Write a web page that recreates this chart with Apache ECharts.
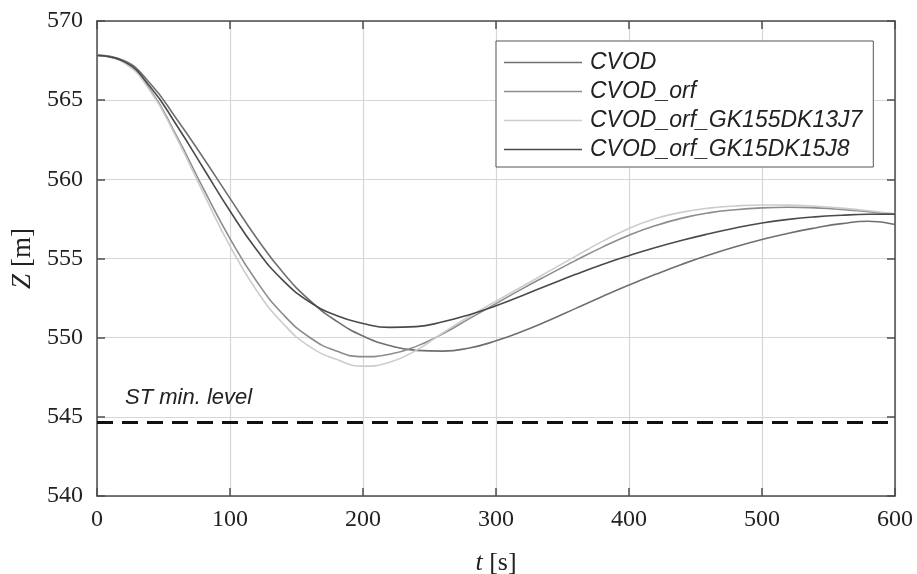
<!DOCTYPE html>
<html>
<head>
<meta charset="utf-8">
<script src="https://cdn.jsdelivr.net/npm/echarts@6/dist/echarts.min.js"></script>
<style>html,body{margin:0;padding:0;background:#fff}#main{width:917px;height:574px}</style>
</head>
<body>
<div id="main"></div>
<script type="text/javascript">
    // time axis [s], one sample every 20 s
    var times = [0, 20, 40, 60, 80, 100, 120, 140, 160, 180, 200, 220, 240, 260, 280, 300,
                 320, 340, 360, 380, 400, 420, 440, 460, 480, 500, 520, 540, 560, 580, 600];

    // water level Z [m]
    var cvod = [567.83, 567.5, 566.05, 563.8, 561.35, 558.8, 556.3, 554.1, 552.35, 551.05, 550.1,
                549.5, 549.2, 549.15, 549.35, 549.8, 550.4, 551.1, 551.85, 552.6, 553.32,
                554.0, 554.64, 555.22, 555.74, 556.2, 556.6, 556.93, 557.2, 557.35, 557.15];
    var cvodOrf = [567.83, 567.41, 565.66, 562.71, 559.41, 556.26, 553.56, 551.46, 550.01, 549.16, 548.8,
                   548.95, 549.45, 550.25, 551.2, 552.15, 553.1, 554.0, 554.88, 555.72, 556.47,
                   557.08, 557.55, 557.88, 558.08, 558.2, 558.24, 558.2, 558.1, 557.95, 557.8];
    var cvodGK155 = [567.83, 567.38, 565.58, 562.58, 559.13, 555.78, 552.98, 550.88, 549.43, 548.63, 548.2,
                     548.45, 549.2, 550.3, 551.35, 552.3, 553.25, 554.2, 555.15, 556.08, 556.9,
                     557.52, 557.93, 558.18, 558.32, 558.38, 558.37, 558.3, 558.18, 558.02, 557.82];
    var cvodGK15 = [567.83, 567.45, 565.85, 563.4, 560.7, 558.0, 555.55, 553.6, 552.25, 551.4, 550.9,
                    550.65, 550.7, 551.0, 551.45, 552.02, 552.67, 553.34, 554.0, 554.62, 555.18,
                    555.69, 556.15, 556.56, 556.93, 557.24, 557.47, 557.63, 557.73, 557.79, 557.8];

    var seriesNames = ['CVOD', 'CVOD_orf', 'CVOD_orf_GK155DK13J7', 'CVOD_orf_GK15DK15J8'];
    var seriesColors = ['#6f6f6f', '#8c8c8c', '#cccccc', '#4a4a4a'];
    var stMinLevel = 544.65;

    function pairs(vals) {
        return times.map(function (t, i) { return [t, vals[i]]; });
    }

    var axisColor = '#4d4d4d';
    var serif = 'Liberation Serif';
    var sans = 'Liberation Sans';

    var myChart = echarts.init(document.getElementById('main'));

    // top / right axes only close the box
    var frameAxis = {
        axisLine: { show: true, onZero: false, lineStyle: { color: axisColor, width: 1.5 } },
        axisTick: { show: true, inside: true, length: 8, lineStyle: { color: axisColor, width: 1.5 } },
        axisLabel: { show: false },
        splitLine: { show: false }
    };

    var allData = [cvod, cvodOrf, cvodGK155, cvodGK15];
    var series = allData.map(function (vals, i) {
        return {
            name: seriesNames[i],
            type: 'line',
            smooth: true,
            symbol: 'none',
            color: seriesColors[i],
            lineStyle: { width: 1.6, color: seriesColors[i] },
            data: pairs(vals)
        };
    });
    // ST minimum level, dashed
    series[0].markLine = {
        silent: true,
        symbol: 'none',
        lineStyle: { type: [16, 9], width: 3, color: '#111' },
        label: {
            show: true,
            position: 'insideStartTop',
            formatter: 'ST min. level',
            fontStyle: 'italic',
            fontFamily: sans,
            fontSize: 22,
            color: '#222',
            distance: [28, 14]
        },
        data: [{ yAxis: stMinLevel }]
    };

    var option = {
        animation: false,
        backgroundColor: '#fff',
        grid: { left: 97, right: 22, top: 21, bottom: 78, containLabel: false, outerBoundsMode: 'none' },
        legend: {
            orient: 'vertical',
            left: 496,
            top: 41,
            selectedMode: false,
            icon: 'rect',
            itemWidth: 78,
            itemHeight: 1.5,
            itemGap: 6,
            padding: [10, 11, 6, 8],
            borderColor: '#555',
            borderWidth: 1,
            backgroundColor: '#fff',
            textStyle: { fontStyle: 'italic', fontFamily: sans, fontSize: 23, color: '#222', padding: [0, 0, 0, 3], lineHeight: 21 },
            data: seriesNames
        },
        xAxis: [{
            type: 'value', min: 0, max: 600, interval: 100, position: 'bottom',
            axisLine: { onZero: false, lineStyle: { color: axisColor, width: 1.5 } },
            axisTick: { inside: true, length: 8, lineStyle: { color: axisColor, width: 1.5 } },
            axisLabel: { fontFamily: serif, fontSize: 24, color: '#222', margin: 12 },
            splitLine: { lineStyle: { color: '#d6d6d6', width: 1.2 } },
            name: '{i|t} [s]',
            nameLocation: 'middle',
            nameGap: 54,
            nameTextStyle: { fontFamily: serif, fontSize: 26, color: '#222',
                rich: { i: { fontFamily: serif, fontStyle: 'italic', fontSize: 26, color: '#222' } } }
        }, Object.assign({ type: 'value', min: 0, max: 600, interval: 100, position: 'top' }, frameAxis)],
        yAxis: [{
            type: 'value', min: 540, max: 570, interval: 5, position: 'left',
            axisLine: { show: true, onZero: false, lineStyle: { color: axisColor, width: 1.5 } },
            axisTick: { show: true, inside: true, length: 8, lineStyle: { color: axisColor, width: 1.5 } },
            axisLabel: { fontFamily: serif, fontSize: 24, color: '#222', margin: 14 },
            splitLine: { lineStyle: { color: '#d6d6d6', width: 1.2 } },
            name: '{i|Z} [m]',
            nameLocation: 'middle',
            nameRotate: 90,
            nameGap: 53,
            nameTextStyle: { fontFamily: serif, fontSize: 27, color: '#222',
                rich: { i: { fontFamily: serif, fontStyle: 'italic', fontSize: 27, color: '#222' } } }
        }, Object.assign({ type: 'value', min: 540, max: 570, interval: 5, position: 'right' }, frameAxis)],
        series: series
    };

    myChart.setOption(option);
</script>
</body>
</html>
